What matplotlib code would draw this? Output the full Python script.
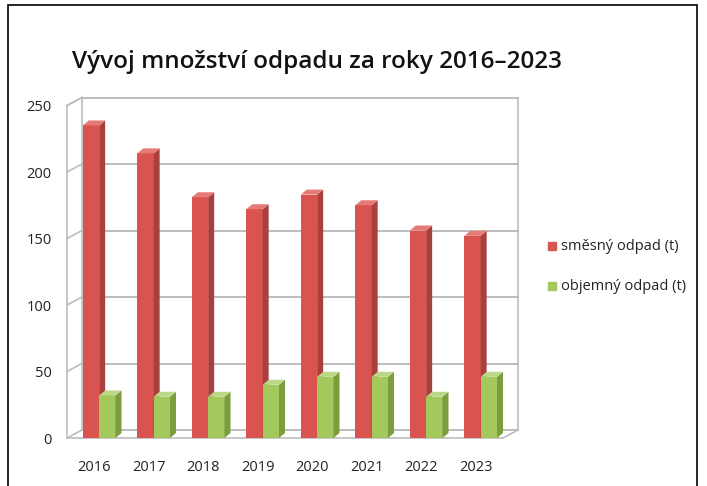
import matplotlib
matplotlib.use("Agg")
import matplotlib.pyplot as plt
from matplotlib.patches import Polygon, Rectangle
from matplotlib import transforms

plt.rcParams['font.family'] = ['Open Sans', 'DejaVu Sans']

# data
years = ['2016', '2017', '2018', '2019', '2020', '2021', '2022', '2023']
smesny = [235, 214, 181, 172, 183, 175, 156, 152]
objemny = [32, 31, 31, 40, 46, 46, 31, 46]
series_names = ['směsný odpad (t)', 'objemný odpad (t)']
yticks = [0, 50, 100, 150, 200, 250]

red, red_side, red_top = '#d9534f', '#a8403d', '#e57a76'
green, green_side, green_top = '#a3c95c', '#7b9c3f', '#bcd886'
grid_c = '#bdbdbd'

W, H = 707, 486
fig = plt.figure(figsize=(W / 100, H / 100), dpi=100)

# front plane of the pseudo-3D plot (pixels)
fl, fr, fb, ft = 67, 503, 438, 105.5
ax = fig.add_axes([fl / W, (H - fb) / H, (fr - fl) / W, (fb - ft) / H])
ax.set_xlim(-0.5, len(years) - 0.5)
ax.set_ylim(0, 250)
for s in ax.spines.values():
    s.set_visible(False)

# depth offsets in pixels
wall_dx, wall_dy = 15, 8
bar_dx, bar_dy = 6, 5
px_x = (fr - fl) / len(years)
px_y = (fb - ft) / 250
back = transforms.offset_copy(ax.transData, fig, x=wall_dx, y=wall_dy, units='dots')

x0, x1 = -0.5, len(years) - 0.5
# back wall gridlines and frame
for v in yticks:
    ax.plot([x0, x1], [v, v], color=grid_c, lw=1.4, transform=back, clip_on=False, zorder=1)
    # side wall lines from front axis to back wall
    ax.plot([x0, x0 + wall_dx / px_x], [v, v + wall_dy / px_y], color=grid_c, lw=1.2,
            clip_on=False, zorder=1)
ax.plot([x0, x0], [0, 250], color=grid_c, lw=1.2, transform=back, clip_on=False, zorder=1)
ax.plot([x1, x1], [0, 250], color=grid_c, lw=1.2, transform=back, clip_on=False, zorder=1)
ax.plot([x0, x0], [0, 250], color=grid_c, lw=1.2, clip_on=False, zorder=1)
ax.plot([x0, x0 + wall_dx / px_x], [250, 250 + wall_dy / px_y], color=grid_c, lw=1.2,
        clip_on=False, zorder=1)
# floor
ax.plot([x0, x1], [0, 0], color=grid_c, lw=1.2, clip_on=False, zorder=1)
ax.plot([x1, x1 + wall_dx / px_x], [0, wall_dy / px_y], color=grid_c, lw=1.2,
        clip_on=False, zorder=1)

w = 0.3
ddx = bar_dx / px_x
ddy = bar_dy / px_y


def bar3d(xc, h, c_front, c_side, c_top, z):
    xl, xr = xc - w / 2, xc + w / 2
    ax.bar(xc, h, width=w, color=c_front, zorder=z, clip_on=False)
    ax.add_patch(Polygon([(xr, 0), (xr + ddx, ddy), (xr + ddx, h + ddy), (xr, h)],
                         closed=True, facecolor=c_side, edgecolor='none', zorder=z, clip_on=False))
    ax.add_patch(Polygon([(xl, h), (xr, h), (xr + ddx, h + ddy), (xl + ddx, h + ddy)],
                         closed=True, facecolor=c_top, edgecolor='none', zorder=z, clip_on=False))


for i in range(len(years)):
    bar3d(i - 0.06, smesny[i], red, red_side, red_top, 3 + 2 * i)
    bar3d(i - 0.06 + w, objemny[i], green, green_side, green_top, 4 + 2 * i)

ax.set_xticks(range(len(years)))
ax.set_xticklabels(years, fontsize=10.5, color='#222222')
ax.set_yticks(yticks)
ax.set_yticklabels([str(v) for v in yticks], fontsize=10.5, color='#222222')
ax.tick_params(axis='both', length=0)
ax.tick_params(axis='x', pad=16)
ax.tick_params(axis='y', pad=11)

fig.text(72 / W, 1 - 62 / H, 'Vývoj množství odpadu za roky 2016–2023',
         fontsize=17.5, fontweight='semibold', va='center', ha='left', color='#111111')

# legend
for k, (name, c) in enumerate(zip(series_names, [red, green])):
    yy = 1 - (246 + 40 * k) / H
    fig.patches.append(Rectangle((548 / W, yy - 4 / H), 8 / W, 8 / H, color=c,
                                 transform=fig.transFigure))
    fig.text(561 / W, yy, name, fontsize=10.5, va='center', ha='left', color='#222222')

# outer frame
fig.patches.append(Rectangle((8 / W, -0.1), 689 / W, 1.1 - 5 / H, fill=False,
                             edgecolor='black', lw=1.2, transform=fig.transFigure))

fig.savefig('out.png', dpi=100)
